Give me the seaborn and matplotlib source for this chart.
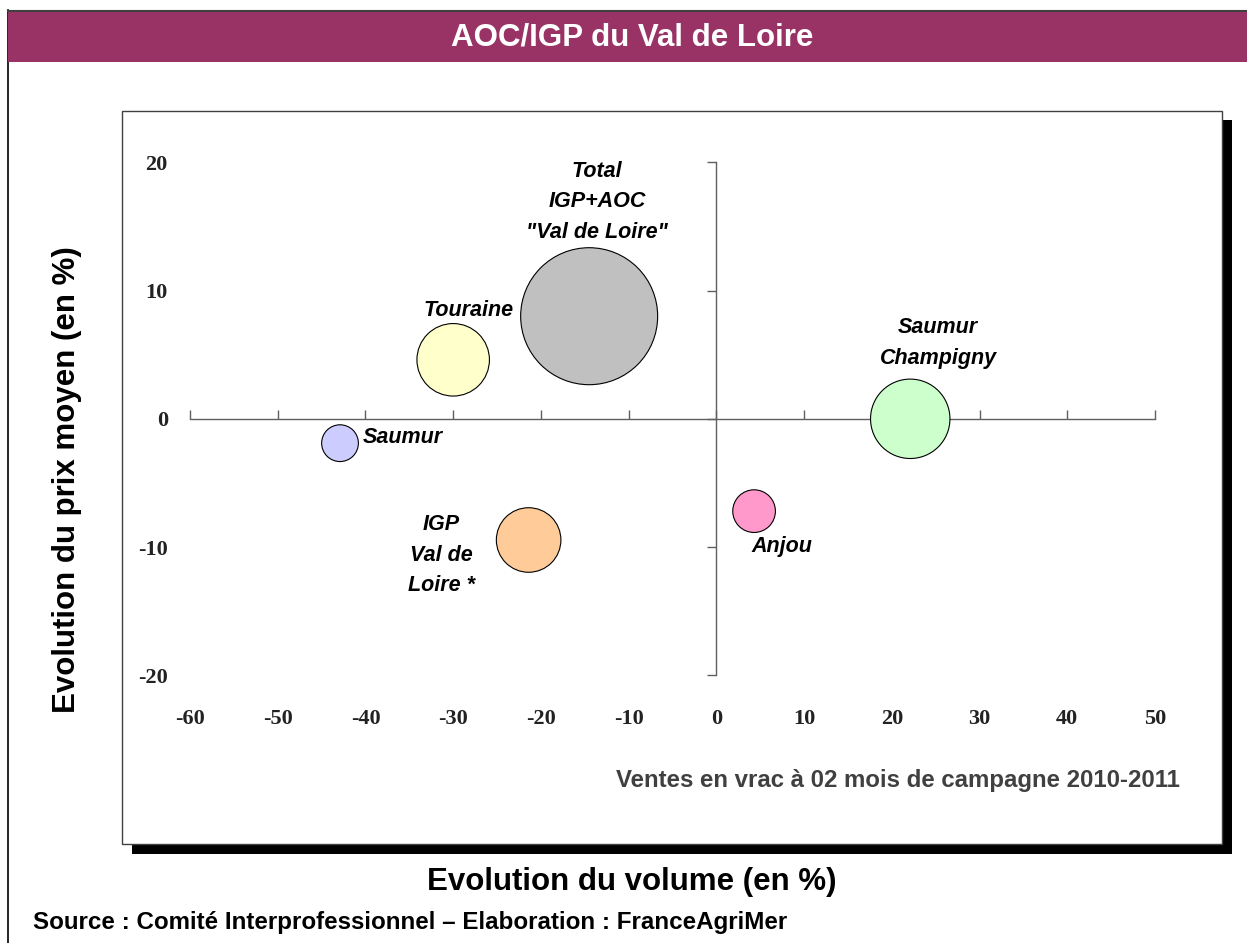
import matplotlib
matplotlib.use("Agg")
import matplotlib.pyplot as plt
from matplotlib.patches import Rectangle
from matplotlib.lines import Line2D
import pandas as pd
import seaborn as sns

# data
names = ["Total", "Touraine", "Saumur", "Saumur Champigny", "IGP Val de Loire", "Anjou"]
labels = ['Total\nIGP+AOC\n"Val de Loire"', "Touraine", "Saumur",
          "Saumur\nChampigny", "IGP\nVal de\nLoire *", "Anjou"]
volume_change = [-14.5, -30.0, -42.9, 22.1, -21.4, 4.3]
price_change = [8.0, 4.6, -1.9, 0.0, -9.45, -7.2]
bubble_size = [100, 28.0, 7.2, 33.6, 22.2, 9.7]
colors = ["#C0C0C0", "#FFFFCC", "#CCCCFF", "#CCFFCC", "#FFCC99", "#FF99CC"]
x_ticks = [-60, -50, -40, -30, -20, -10, 0, 10, 20, 30, 40, 50]
y_ticks = [-20, -10, 0, 10, 20]

# label placement (offset in points from bubble centre, alignment)
label_pos = {
    "Total": ((5.8, 82.5), "center"),
    "Touraine": ((10.8, 35.3), "center"),
    "Saumur": ((16, 4.2), "left"),
    "Saumur Champigny": ((20, 54.5), "center"),
    "IGP Val de Loire": ((-63, -11), "center"),
    "Anjou": ((20, -25.5), "center"),
}

df = pd.DataFrame({"name": names, "label": labels, "volume": volume_change,
                   "price": price_change, "size": bubble_size})

W, H = 1247, 943
fig = plt.figure(figsize=(W / 100, H / 100), dpi=100)
sans = "Liberation Sans"
serif = "Liberation Serif"


def fx(px):
    return px / W


def fy(py):
    return 1 - py / H


# page frame and header band
fig.add_artist(Line2D([fx(7.5), fx(7.5)], [fy(10), 0], color="black", lw=1.2, zorder=-5))
fig.add_artist(Line2D([fx(7.5), 1], [fy(10.5), fy(10.5)], color="#404040", lw=1.5, zorder=-5))
fig.add_artist(Rectangle((fx(8), fy(62)), 1 - fx(8), (62 - 12) / H,
                         facecolor="#993366", edgecolor="none", zorder=-5))
fig.text(fx(632), fy(38), "AOC/IGP du Val de Loire", color="white", fontsize=22.5,
         fontweight="bold", family=sans, ha="center", va="center")

# plot box with shadow
fig.add_artist(Rectangle((fx(132), fy(853.5)), (1232 - 132) / W, (853.5 - 120) / H,
                         facecolor="black", edgecolor="none", zorder=-5))
fig.add_artist(Rectangle((fx(122), fy(843.5)), (1222 - 122) / W, (843.5 - 110.7) / H,
                         facecolor="white", edgecolor="#404040", lw=1, zorder=-4))

ax = fig.add_axes([fx(190), fy(675.3), (1155 - 190) / W, (675.3 - 162.3) / H])
ax.patch.set_alpha(0)
ax.set_zorder(2)

smax = (137 * 0.72) ** 2
sns.scatterplot(data=df, x="volume", y="price", hue="name",
                palette=dict(zip(names, colors)), size="size", sizes=(0, smax),
                size_norm=(0, 100), edgecolor="black", linewidth=0.8,
                legend=False, ax=ax, zorder=3, clip_on=False)

for _, r in df.iterrows():
    off, ha = label_pos[r["name"]]
    ax.annotate(r["label"], (r["volume"], r["price"]), xytext=off,
                textcoords="offset points", ha=ha, va="center", fontsize=15.5,
                fontweight="bold", fontstyle="italic", family=sans,
                linespacing=1.6, zorder=4)

ax.set_xlim(-60, 50)
ax.set_ylim(-20, 20)
ax.set_xticks(x_ticks)
ax.set_yticks(y_ticks)
ax.set_xticklabels([str(t) for t in x_ticks])
ax.set_yticklabels([str(t) for t in y_ticks])
ax.spines["left"].set_position(("data", 0))
ax.spines["bottom"].set_position(("data", 0))
ax.spines["top"].set_visible(False)
ax.spines["right"].set_visible(False)
for s in ("left", "bottom"):
    ax.spines[s].set_color("#606060")
    ax.spines[s].set_linewidth(1)
ax.tick_params(axis="x", direction="in", length=6.5, width=1, color="#606060", pad=209)
ax.tick_params(axis="y", direction="out", length=6.5, width=1, color="#606060", pad=388.5)
for t in ax.get_xticklabels() + ax.get_yticklabels():
    t.set_fontfamily(serif)
    t.set_fontweight("bold")
    t.set_fontsize(16)
    t.set_color("#222222")
ax.set_xlabel("")
ax.set_ylabel("")

ax.text(1.026, -0.205, "Ventes en vrac à 02 mois de campagne 2010-2011",
        transform=ax.transAxes, ha="right", va="center", fontsize=17.3,
        fontweight="bold", family=sans, color="#404040")

fig.text(fx(66.7), fy(480), "Evolution du prix moyen (en %)", rotation=90,
         ha="center", va="center", fontsize=22.5, fontweight="bold", family=sans)
fig.text(fx(632), fy(882), "Evolution du volume (en %)", ha="center", va="center",
         fontsize=22.5, fontweight="bold", family=sans)
fig.text(fx(33), fy(922), "Source : Comité Interprofessionnel – Elaboration : FranceAgriMer",
         ha="left", va="center", fontsize=17.4, fontweight="bold", family=sans)

fig.savefig("out.png", dpi=100)
